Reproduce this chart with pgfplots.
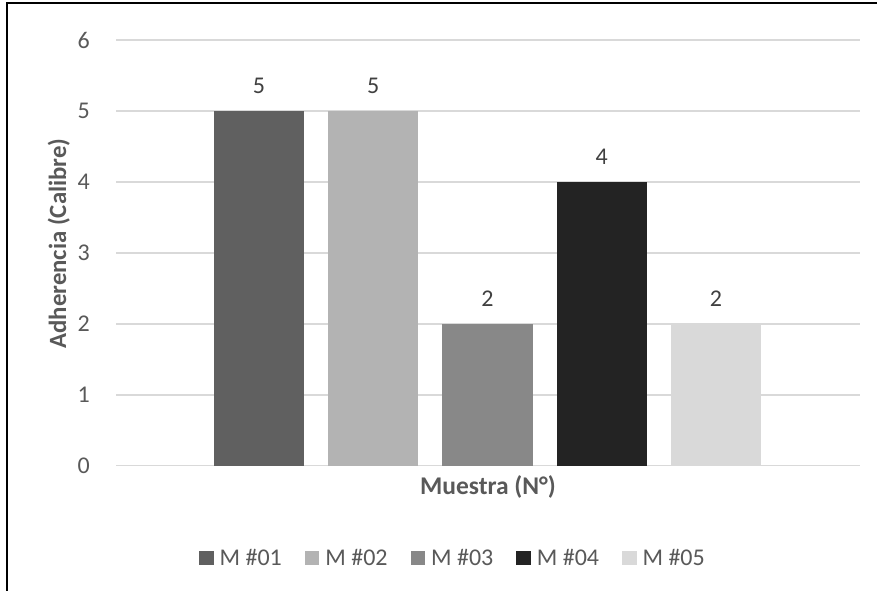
\documentclass[border=0pt]{standalone}
\usepackage{pgfplots}
\pgfplotsset{compat=1.18}
\usepackage{fontspec}
\setmainfont{Carlito}

\definecolor{txt}{HTML}{595959}
\definecolor{lbl}{HTML}{404040}
\definecolor{gridc}{HTML}{D9D9D9}
\definecolor{cA}{HTML}{606060}
\definecolor{cB}{HTML}{B3B3B3}
\definecolor{cC}{HTML}{888888}
\definecolor{cD}{HTML}{232323}
\definecolor{cE}{HTML}{D9D9D9}

\begin{document}
\begin{tikzpicture}
\useasboundingbox (0pt,0pt) rectangle (877pt,590pt);
% chart frame
\draw[line width=1.8pt] (6.7pt,-2pt) -- (6.7pt,586.7pt) -- (880pt,586.7pt);

\begin{axis}[
  at={(116pt,124.3pt)}, anchor=south west,
  scale only axis, width=744pt, height=425.7pt,
  xmin=-0.2516, xmax=6.2604,
  ymin=0, ymax=6, ytick={0,1,2,3,4,5,6},
  xtick=\empty,
  axis lines=left, axis line style={draw=none},
  ytick style={draw=none},
  ymajorgrids, grid style={color=gridc, line width=1.5pt},
  font=\fontsize{24}{28}\selectfont,
  /pgf/number format/assume math mode=true,
  yticklabel style={anchor=east, inner sep=0pt, xshift=-24pt, text=txt},
  xlabel={\bfseries Muestra (N°)},
  xlabel style={at={(axis description cs:0.5,-0.0688)}, anchor=base, inner sep=0pt,
    text=txt, font=\fontsize{25.5}{30}\selectfont},
  ylabel={\bfseries Adherencia (Calibre)},
  ylabel style={at={(axis description cs:-0.0672,0.522)}, rotate=0, anchor=base, inner sep=0pt,
    text=txt, font=\fontsize{24.8}{30}\selectfont},
  legend columns=5,
  legend style={at={(axis description cs:0.4516,-0.2168)}, anchor=center, draw=none,
    text=txt, nodes={inner sep=0pt},
    /tikz/every odd column/.style={column sep=6pt},
    /tikz/every even column/.style={column sep=23pt}},
  legend image code/.code={\fill[#1] (0pt,-7.2pt) rectangle (14.5pt,7.2pt);},
  every axis plot/.append style={ybar, bar shift=0pt, bar width=0.788, draw=none},
  nodes near coords,
  every node near coord/.append style={anchor=base, yshift=17pt, inner sep=0pt, text=lbl},
]
\addplot[fill=cA] coordinates {(1,5)};
\addlegendentry{M \#01}
\addplot[fill=cB] coordinates {(2,5)};
\addlegendentry{M \#02}
\addplot[fill=cC] coordinates {(3,2)};
\addlegendentry{M \#03}
\addplot[fill=cD] coordinates {(4,4)};
\addlegendentry{M \#04}
\addplot[fill=cE] coordinates {(5,2)};
\addlegendentry{M \#05}
\end{axis}
\end{tikzpicture}
\end{document}
